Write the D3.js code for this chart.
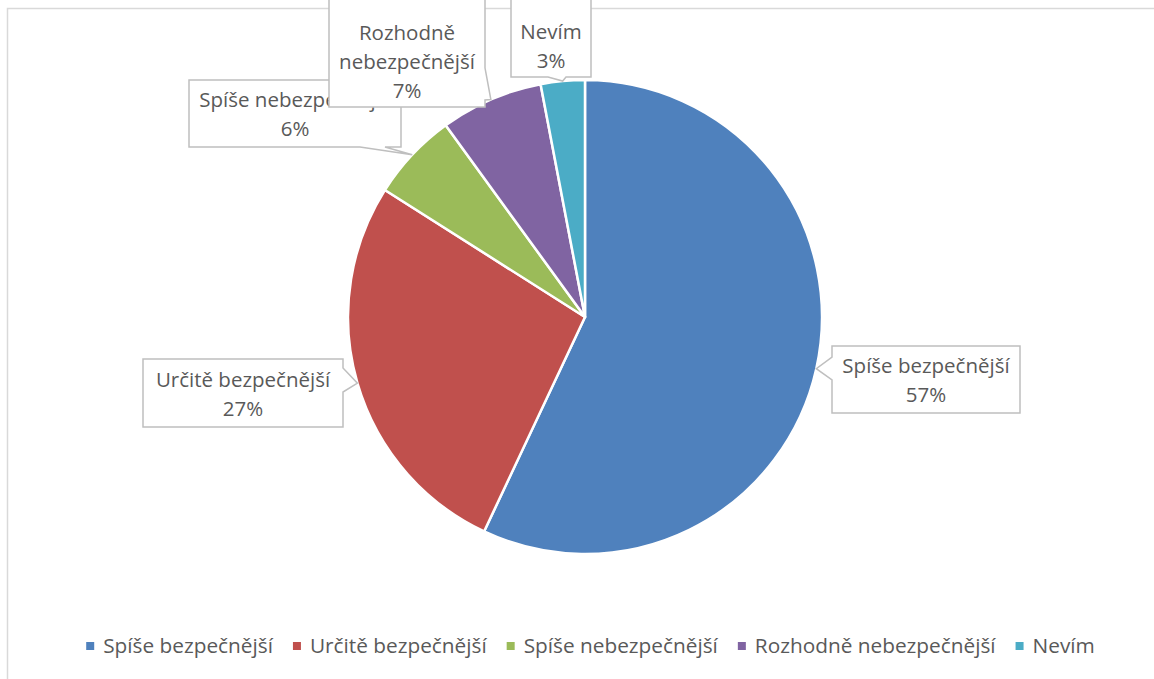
<!DOCTYPE html>
<html>
<head>
<meta charset="utf-8">
<script src="https://cdn.jsdelivr.net/npm/d3@7"></script>
<style>
body { margin: 0; background: #fff; }
svg text { font-family: "Open Sans", "Noto Sans", sans-serif; fill: #595959; }
</style>
</head>
<body>
<div id="chart"></div>
<script>
// data
var categories = ["Spíše bezpečnější", "Určitě bezpečnější", "Spíše nebezpečnější", "Rozhodně nebezpečnější", "Nevím"];
var values = [57, 27, 6, 7, 3];
var labelLines = [["Spíše bezpečnější"], ["Určitě bezpečnější"], ["Spíše nebezpečnější"], ["Rozhodně", "nebezpečnější"], ["Nevím"]];
var colors = ["#4F81BD", "#C0504D", "#9BBB59", "#8064A2", "#4BACC6"];

var svgWidth = 1154;
var svgHeight = 679;
var cx = 585, cy = 317, radius = 237;

// label box layout (x, y, w, h) and which edge carries the pointer
var boxes = [
    {x: 832, y: 346, w: 188, h: 67, side: "left", a: 357, b: 380},
    {x: 143, y: 359, w: 200, h: 68, side: "right", a: 368, b: 392},
    {x: 189, y: 80, w: 212, h: 67, side: "bottom", a: 360, b: 385},
    {x: 329, y: -6, w: 156, h: 113, side: "right", a: 68, b: 100},
    {x: 511, y: -6, w: 80, h: 83, side: "bottom", a: 548, b: 566}
];

var svg = d3.select("#chart")
    .append("svg")
    .attr("width", svgWidth)
    .attr("height", svgHeight);

// outer chart frame (only top and left edges are visible in the shot)
svg.append("path")
    .attr("d", "M7.5,679 L7.5,8.5 L1154,8.5")
    .attr("fill", "none")
    .attr("stroke", "#d9d9d9")
    .attr("stroke-width", 1.5);

var pie = d3.pie().sort(null).value(d => d);
var arcs = pie(values);

var arc = d3.arc().innerRadius(0).outerRadius(radius);
var edgeArc = d3.arc().innerRadius(radius).outerRadius(radius);

var pieGroup = svg.append("g")
    .attr("transform", `translate(${cx}, ${cy})`);

pieGroup.selectAll("path")
    .data(arcs)
    .enter()
    .append("path")
    .attr("d", arc)
    .attr("fill", (d, i) => colors[i])
    .attr("stroke", "#fff")
    .attr("stroke-width", 2.5)
    .attr("stroke-linejoin", "round");

// callout shaped box: rectangle with a triangular pointer to the slice edge
function calloutPath(b, tip) {
    var x0 = b.x, y0 = b.y, x1 = b.x + b.w, y1 = b.y + b.h;
    var p = [];
    if (b.side === "left") {
        p = [[x0, y0], [x1, y0], [x1, y1], [x0, y1], [x0, b.b], tip, [x0, b.a]];
    } else if (b.side === "right") {
        p = [[x0, y0], [x1, y0], [x1, b.a], tip, [x1, b.b], [x1, y1], [x0, y1]];
    } else {
        p = [[x0, y0], [x1, y0], [x1, y1], [b.b, y1], tip, [b.a, y1], [x0, y1]];
    }
    return "M" + p.map(q => q[0] + "," + q[1]).join("L") + "Z";
}

var labelGroup = svg.append("g");

boxes.forEach(function(b, i) {
    var c = edgeArc.centroid(arcs[i]);
    var tip = [cx + c[0], cy + c[1]];
    var g = labelGroup.append("g");
    g.append("path")
        .attr("d", calloutPath(b, tip))
        .attr("fill", "#fff")
        .attr("stroke", "#bfbfbf")
        .attr("stroke-width", 1.5);
    var lines = labelLines[i].concat([values[i] + "%"]);
    var lh = 29;
    var midY = b.y + b.h / 2 + (b.y < 0 ? 11 : 1);
    lines.forEach(function(t, k) {
        g.append("text")
            .attr("x", b.x + b.w / 2)
            .attr("y", midY + (k - (lines.length - 1) / 2) * lh)
            .attr("dy", "0.35em")
            .attr("text-anchor", "middle")
            .style("font-size", "20.5px")
            .text(t);
    });
});

// legend
var legend = svg.append("g");
var items = legend.selectAll("g")
    .data(categories)
    .enter()
    .append("g");

items.append("rect")
    .attr("width", 8)
    .attr("height", 8)
    .attr("y", 642)
    .attr("fill", (d, i) => colors[i]);

items.append("text")
    .attr("y", 646)
    .attr("dy", "0.35em")
    .style("font-size", "20.8px")
    .text(d => d);

var widths = [];
items.each(function() {
    widths.push(d3.select(this).select("text").node().getComputedTextLength());
});
var total = d3.sum(widths) + categories.length * 17 + (categories.length - 1) * 20;
var xPos = 590.5 - total / 2;
items.each(function(d, i) {
    var g = d3.select(this);
    g.select("rect").attr("x", xPos);
    g.select("text").attr("x", xPos + 17);
    xPos += 17 + widths[i] + 20;
});
</script>
</body>
</html>
